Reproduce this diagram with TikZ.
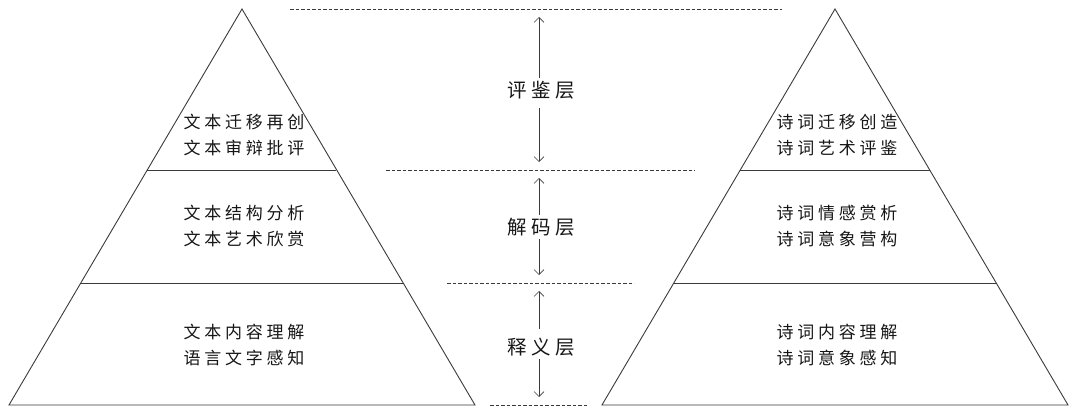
\documentclass[tikz,border=0pt]{standalone}
\usepackage{fontspec}
\newfontfamily\cjk{Noto Sans CJK SC}[LetterSpace=22]
\usepackage{tikz}
\usetikzlibrary{arrows.meta, positioning}
\definecolor{pyrgrey}{HTML}{3A3A3A}
\definecolor{pyrtext}{HTML}{161616}
\tikzset{
  pyrline/.style={pyrgrey, line width=0.9pt, line join=miter},
  layerdash/.style={pyrgrey, line width=0.5pt, dash pattern=on 3.5pt off 2pt},
  pyrtxt/.style={font=\cjk\fontsize{17}{25.5}\selectfont, text=pyrtext, align=center, inner sep=0pt},
  layername/.style={font=\cjk\fontsize{19.5}{21}\selectfont, text=pyrtext, inner sep=3pt},
  layerarrow/.style={pyrgrey, line width=0.6pt, -{Straight Barb[length=5pt, width=10pt]}}
}

\begin{document}
\begin{tikzpicture}[x=1pt, y=-1pt]
      \useasboundingbox (0,0) rectangle (1074,411);
      % pyramid corners
      \coordinate (la) at (242,9);   \coordinate (ll) at (9,405);   \coordinate (lr) at (475,405);
      \coordinate (ra) at (835,9);   \coordinate (rl) at (602,405); \coordinate (rr) at (1068,405);
      \draw[pyrline] (la) -- (lr) -- (ll) -- cycle;
      \draw[pyrline] (ra) -- (rr) -- (rl) -- cycle;
      \draw[pyrline] (147,170) -- (336,170);
      \draw[pyrline] (81,283) -- (403,283);
      \draw[pyrline] (740,170) -- (930,170);
      \draw[pyrline] (674,283) -- (997,283);
      % dashed layer borders
      \coordinate (d0) at (539,9);   \coordinate (d1) at (539,170);
      \coordinate (d2) at (539,283); \coordinate (d3) at (539,405);
      \draw[layerdash] (290,9) -- (782,9);
      \draw[layerdash] (386,170) -- (695,170);
      \draw[layerdash] (447,283) -- (634,283);
      \draw[layerdash] (490,405) -- (587,405);
      % left pyramid text
      \node[pyrtxt] (lt) at (244,135) {文本迁移再创\\文本审辩批评};
      \node[pyrtxt] (lm) at (244,226) {文本结构分析\\文本艺术欣赏};
      \node[pyrtxt] (lb) at (244,345) {文本内容理解\\语言文字感知};
      % right pyramid text
      \node[pyrtxt] (rt) at (837,135) {诗词迁移创造\\诗词艺术评鉴};
      \node[pyrtxt] (rm) at (837,226) {诗词情感赏析\\诗词意象营构};
      \node[pyrtxt] (rb) at (837,345) {诗词内容理解\\诗词意象感知};
      % layer names and arrows
      \node[layername] (pj) at (541,90) {评鉴层};
      \node[layername] (jm) at (541,227) {解码层};
      \node[layername] (sy) at (541,347) {释义层};
      \draw[layerarrow, shorten >=8pt] (pj.north -| d0) -- (d0);
      \draw[layerarrow, shorten >=8pt, shorten <=6pt] (pj.south -| d1) -- (d1);
      \draw[layerarrow, shorten >=8pt] (jm.north -| d1) -- (d1);
      \draw[layerarrow, shorten >=8pt] (jm.south -| d2) -- (d2);
      \draw[layerarrow, shorten >=8pt, shorten <=6pt] (sy.north -| d2) -- (d2);
      \draw[layerarrow, shorten >=8pt] (sy.south -| d3) -- (d3);
    \end{tikzpicture}
\end{document}
